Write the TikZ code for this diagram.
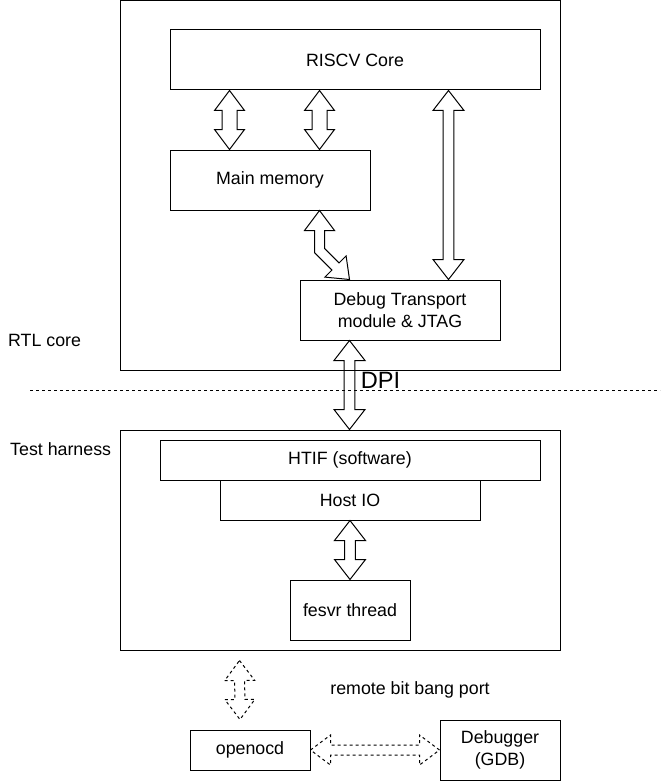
\documentclass[tikz,border=0pt]{standalone}
\usepackage{fontspec}
\setmainfont{Liberation Sans}
\usetikzlibrary{calc}
\tikzset{
  box/.style={draw, line width=1pt, inner sep=0pt, align=center,
    font=\fontsize{17.8}{21.5}\selectfont},
  lbl/.style={inner sep=0pt, font=\fontsize{17.8}{21.5}\selectfont},
  blk/.style={draw, line width=1pt, line join=miter},
  dblk/.style={blk, dash pattern=on 3pt off 3pt},
  sep/.style={line width=1pt, dash pattern=on 3pt off 3pt},
}
% #1 start, #2 end, #3 shaft half width, #4 head half width, #5 head length, #6 style
\newcommand\blockarrow[6]{%
  \coordinate (ha) at ($(#1)!#5!(#2)$);
  \coordinate (hb) at ($(#2)!#5!(#1)$);
  \draw[#6] (#1) -- ($(ha)!#4!90:(#2)$) -- ($(ha)!#3!90:(#2)$)
    -- ($(hb)!#3!-90:(#1)$) -- ($(hb)!#4!-90:(#1)$) -- (#2)
    -- ($(hb)!#4!90:(#1)$) -- ($(hb)!#3!90:(#1)$)
    -- ($(ha)!#3!-90:(#2)$) -- ($(ha)!#4!-90:(#2)$) -- cycle;
}
\begin{document}
\begin{tikzpicture}[x=1pt,y=-1pt]
\useasboundingbox (0,0) rectangle (662,781);

% containers
\node[box, minimum width=440, minimum height=369.5] (rtl) at (340,185.5) {};
\node[box, minimum width=440, minimum height=220] (th) at (340,540) {};

% RTL core boxes
\node[box, minimum width=370, minimum height=60] (riscv) at (355,60) {RISCV Core};
\node[box, minimum width=200, minimum height=60] (mem) at (270,180) {Main memory};
\node[box, minimum width=200, minimum height=60] (dtm) at (400,310) {Debug Transport\\module \& JTAG};

% Test harness boxes
\node[box, minimum width=380, minimum height=40] (htif) at (350,460) {HTIF (software)};
\node[box, minimum width=260, minimum height=40] (hostio) at (350,500) {Host IO};
\node[box, minimum width=120, minimum height=60] (fesvr) at (350,610) {fesvr thread};

% outside
\node[box, minimum width=120, minimum height=40] (openocd) at (250,750) {openocd};
\node[box, minimum width=120, minimum height=60] (gdb) at (500,750) {Debugger\\(GDB)};

% labels
\node[lbl, anchor=west] (lrtl) at (8,340.5) {RTL core};
\node[lbl, anchor=west] (lth) at (10,449) {Test harness};
\node[lbl] (lrbb) at (410,690) {remote bit bang port};
\node[inner sep=0pt, font=\fontsize{23.6}{28}\selectfont] (ldpi) at (380.5,380.5) {DPI};

% separator
\coordinate (s1) at (30,390);
\coordinate (s2) at (660,390);
\draw[sep] (s1) -- (s2);

% arrows
\coordinate (a1s) at ($(riscv.south west)+(60,0)$);
\coordinate (a1e) at ($(mem.north west)+(60,0)$);
\blockarrow{a1s}{a1e}{7.5pt}{15pt}{20pt}{blk}
\coordinate (a2s) at ($(riscv.south west)+(150,0)$);
\coordinate (a2e) at ($(mem.north west)+(150,0)$);
\blockarrow{a2s}{a2e}{7.5pt}{15pt}{20pt}{blk}
\coordinate (a3s) at ($(riscv.south east)+(-92,0)$);
\coordinate (a3e) at ($(dtm.north east)+(-52,0)$);
\blockarrow{a3s}{a3e}{5.3pt}{15.5pt}{20pt}{blk}
\coordinate (a4s) at ($(dtm.south west)+(50,0)$);
\coordinate (a4e) at ($(th.north west)+(230,0)$);
\blockarrow{a4s}{a4e}{5.3pt}{15.5pt}{20pt}{blk}
\blockarrow{hostio.south}{fesvr.north}{5.3pt}{15.5pt}{20pt}{blk}
\coordinate (a6s) at ($(th.south west)+(120,10)$);
\coordinate (a6e) at ($(openocd.north)+(-10,-10)$);
\blockarrow{a6s}{a6e}{5pt}{15pt}{20pt}{dblk}
\blockarrow{openocd.east}{gdb.west}{5pt}{15pt}{20pt}{dblk}

% bent arrow main memory -> debug transport
\coordinate (bt) at ($(mem.south west)+(150,0)$);
\coordinate (bb) at ($(dtm.north west)+(50,0)$);
\draw[blk] (bt) -- ($(bt)+(-15,20)$) -- ($(bt)+(-5,20)$) -- ($(bt)+(-5,42.07)$)
  -- ($(bt)+(12.46,59.54)$) -- ($(bt)+(5.39,66.61)$) -- (bb)
  -- ($(bt)+(26.61,45.39)$) -- ($(bt)+(19.54,52.46)$) -- ($(bt)+(5,37.93)$)
  -- ($(bt)+(5,20)$) -- ($(bt)+(15,20)$) -- cycle;
\end{tikzpicture}
\end{document}
